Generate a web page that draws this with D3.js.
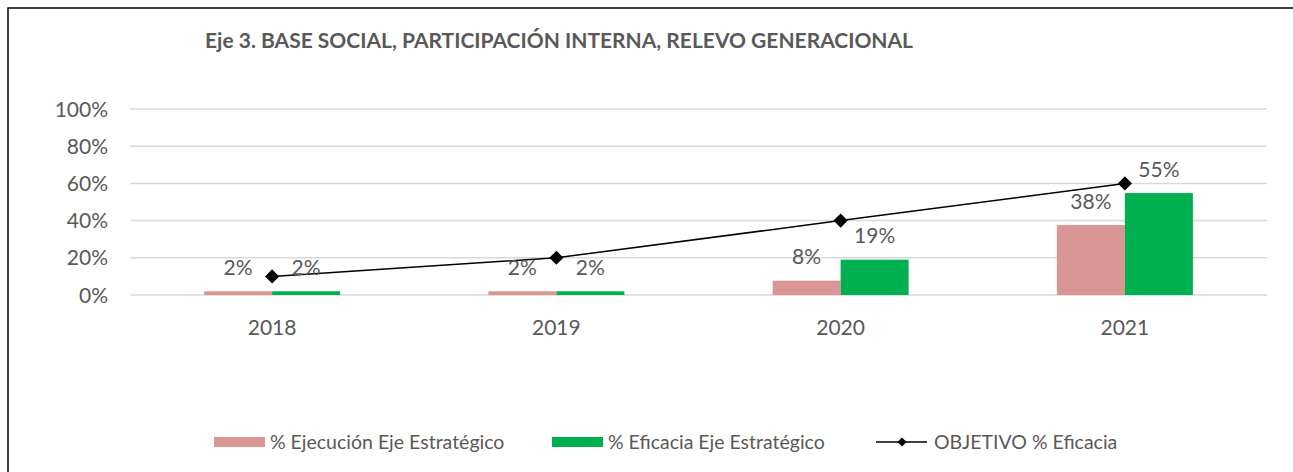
<!DOCTYPE html>
<html>
<head>
  <meta charset="UTF-8">
  <style>
    body { margin: 0; background: #fff; }
    svg { display: block; }
    text { font-family: Lato, "Open Sans", sans-serif; fill: #595959; }
  </style>
</head>
<body>
<svg></svg>
<script src="https://d3js.org/d3.v7.min.js"></script>
<script>

let width = 1293, height = 472;

// data
const years = ["2018", "2019", "2020", "2021"];
const ejecucion = [0.02, 0.02, 0.077, 0.376];
const eficacia = [0.02, 0.02, 0.19, 0.548];
const objetivo = [0.10, 0.20, 0.40, 0.60];
const yTicks = [0, 0.2, 0.4, 0.6, 0.8, 1.0];
const seriesNames = ["% Ejecución Eje Estratégico", "% Eficacia Eje Estratégico", "OBJETIVO % Eficacia"];

const pink = "#d99694", green = "#00b050";

let svg = d3.select("svg")
    .attr("width", width)
    .attr("height", height);

// outer frame (right/bottom edges fall outside the picture)
svg.append("rect")
    .attr("x", 8).attr("y", 8)
    .attr("width", 1320).attr("height", 520)
    .attr("fill", "none")
    .attr("stroke", "#000")
    .attr("stroke-width", 1.5);

svg.append("text")
    .attr("x", 205).attr("y", 48)
    .style("font-weight", "bold")
    .style("font-size", "21px")
    .text("Eje 3. BASE SOCIAL, PARTICIPACIÓN INTERNA, RELEVO GENERACIONAL");

let x = d3.scaleBand().domain(years).range([130, 1267]).padding(0);
let xs = d3.scaleBand().domain([0, 1]).range([0, x.bandwidth()])
    .paddingInner(0).paddingOuter(1.09);
let y = d3.scaleLinear().domain([0, 1]).range([295, 109]);

// gridlines
svg.append("g")
    .selectAll("line")
    .data(yTicks)
    .enter()
    .append("line")
    .attr("x1", 130).attr("x2", 1267)
    .attr("y1", d => y(d)).attr("y2", d => y(d))
    .attr("stroke", "#d9d9d9")
    .attr("stroke-width", 1.5);

// y tick labels
svg.append("g")
    .selectAll("text")
    .data(yTicks)
    .enter()
    .append("text")
    .attr("x", 108)
    .attr("y", d => y(d))
    .attr("dy", "0.36em")
    .attr("text-anchor", "end")
    .style("font-size", "21px")
    .text(d3.format(".0%"));

// x labels
svg.append("g")
    .selectAll("text")
    .data(years)
    .enter()
    .append("text")
    .attr("x", d => x(d) + x.bandwidth() / 2)
    .attr("y", 327)
    .attr("dy", "0.36em")
    .attr("text-anchor", "middle")
    .style("font-size", "21px")
    .text(d => d);

let bars = [];
years.forEach((yr, i) => {
    bars.push({ year: yr, s: 0, v: ejecucion[i], color: pink });
    bars.push({ year: yr, s: 1, v: eficacia[i], color: green });
});

svg.append("g")
    .selectAll("rect")
    .data(bars)
    .enter()
    .append("rect")
    .attr("x", d => x(d.year) + xs(d.s))
    .attr("width", xs.bandwidth())
    .attr("y", d => y(d.v))
    .attr("height", d => y(0) - y(d.v))
    .attr("fill", d => d.color);

// line
let line = d3.line()
    .x((d, i) => x(years[i]) + x.bandwidth() / 2)
    .y(d => y(d));

svg.append("path")
    .datum(objetivo)
    .attr("d", line)
    .attr("fill", "none")
    .attr("stroke", "#000")
    .attr("stroke-width", 1.5);

svg.append("g")
    .selectAll("path")
    .data(objetivo)
    .enter()
    .append("path")
    .attr("d", d3.symbol().type(d3.symbolSquare).size(100))
    .attr("transform", (d, i) => "translate(" + (x(years[i]) + x.bandwidth() / 2) + "," + y(d) + ") rotate(45)")
    .attr("fill", "#000");

// bar value labels
svg.append("g")
    .selectAll("text")
    .data(bars)
    .enter()
    .append("text")
    .attr("x", d => x(d.year) + xs(d.s) + xs.bandwidth() / 2)
    .attr("y", d => y(d.v) - 24)
    .attr("dy", "0.36em")
    .attr("text-anchor", "middle")
    .style("font-size", "21px")
    .text(d => d3.format(".0%")(d.v));

// legend
let legend = svg.append("g").attr("transform", "translate(0, 442)");
legend.append("rect").attr("x", 214).attr("y", -5).attr("width", 51).attr("height", 10).attr("fill", pink);
legend.append("text").attr("x", 270).attr("dy", "0.36em").style("font-size", "19.5px").text(seriesNames[0]);
legend.append("rect").attr("x", 552).attr("y", -5).attr("width", 51).attr("height", 10).attr("fill", green);
legend.append("text").attr("x", 608).attr("dy", "0.36em").style("font-size", "19.5px").text(seriesNames[1]);
legend.append("line").attr("x1", 876).attr("x2", 927).attr("stroke", "#000").attr("stroke-width", 1.5);
legend.append("path")
    .attr("d", d3.symbol().type(d3.symbolSquare).size(40))
    .attr("transform", "translate(902,0) rotate(45)")
    .attr("fill", "#000");
legend.append("text").attr("x", 934).attr("dy", "0.36em").style("font-size", "19.5px").text(seriesNames[2]);

</script>
</body>
</html>
